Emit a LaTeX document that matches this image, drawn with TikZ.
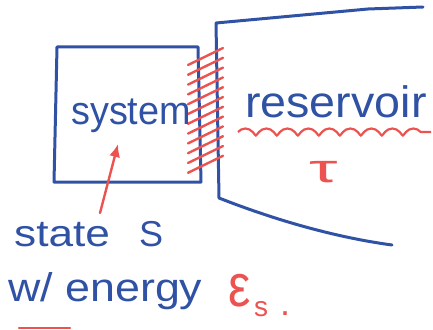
\documentclass[tikz,border=0pt]{standalone}
\usepackage{fontspec}
\setmainfont{Liberation Sans}
\usetikzlibrary{arrows.meta,decorations.pathmorphing}
\definecolor{penblue}{HTML}{2F52A4}
\definecolor{penred}{HTML}{EC5350}
\tikzset{
  blueline/.style={draw=penblue,line width=3pt,line join=round,line cap=round},
  redline/.style={draw=penred,line width=2.4pt,line cap=round},
  bluetext/.style={text=penblue,inner sep=0pt,anchor=base west},
  redtext/.style={text=penred,inner sep=0pt,anchor=base west},
}
\begin{document}
\begin{tikzpicture}[x=1pt,y=-1pt]
\useasboundingbox (0,0) rectangle (433,329);
% system box
\draw[blueline] (57,47) -- (198,47) -- (201,182) -- (54,182) -- cycle;
% reservoir outline
\draw[blueline] (423,7) -- (368,9) -- (216,23) -- (219,198)
  .. controls (280,222) and (340,238) .. (392,245);
% hatching
\foreach \i in {0,...,11}{
  \draw[redline] (188,{65+9.8*\i}) -- (223,{48+9.8*\i});
}
% coil under reservoir
\draw[draw=penred,line width=2.2pt,decorate,
  decoration={coil,segment length=21pt,amplitude=3.5pt,aspect=0.6}]
  (238,132) -- (431,132);
% texts
\node[bluetext] (sys) at (71,124) {\scalebox{1.05}[1.1]{\fontsize{36}{36}\selectfont system}};
\node[bluetext] (res) at (245,117) {\scalebox{1.06}[1.0]{\fontsize{44}{44}\selectfont reservoir}};
\node[redtext] (tau) at (309,182) {\scalebox{1.8}[1]{\fontsize{40}{40}\selectfont τ}};
\node[bluetext] (state) at (14,246) {\scalebox{1.3}[1.1]{\fontsize{34}{34}\selectfont state}};
\node[bluetext] (S) at (139,246) {\fontsize{36}{36}\selectfont S};
\node[bluetext] (wen) at (8,301) {\scalebox{1.12}[1.0]{\fontsize{40}{40}\selectfont w/ energy}};
\node[redtext] (eps) at (228,306) {\scalebox{1}[1.2]{\fontsize{50}{50}\selectfont ε}};
\node[redtext] (epss) at (254,316) {\fontsize{28}{28}\selectfont s};
\node[redtext] (dot) at (280,315) {\fontsize{36}{36}\selectfont .};
% arrow
\coordinate (arrS) at (100,213);
\coordinate (arrE) at (118,144);
\draw[redline,-{Latex[length=13pt,width=11pt]}] (arrS) -- (arrE);
% bottom red stroke (cut off)
\coordinate (bl) at (19,328);
\coordinate (br) at (70,328);
\draw[redline] (bl) -- (br);
\end{tikzpicture}
\end{document}
